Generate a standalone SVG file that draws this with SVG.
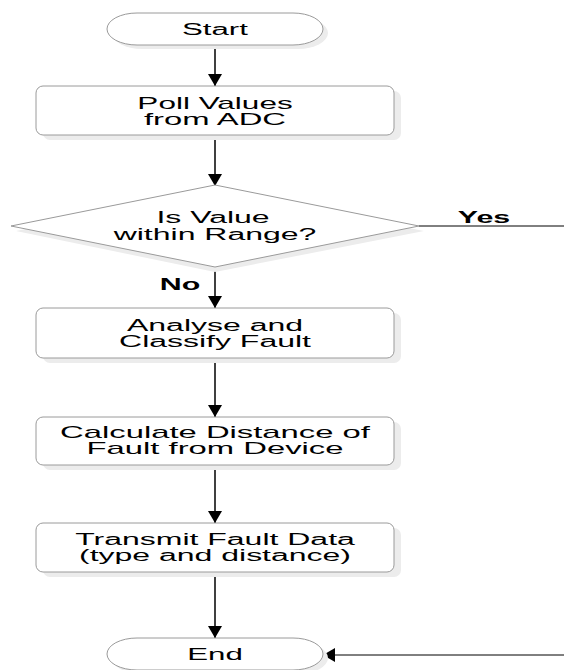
<svg xmlns="http://www.w3.org/2000/svg" width="564" height="670" viewBox="0 0 564 670">
<style>
.t{font-family:"Liberation Sans",Arial,sans-serif;font-size:16px;fill:#000;text-anchor:middle}
.b{font-weight:bold}
.shape{fill:#fff;stroke:#9a9a9a;stroke-width:1}
.shadow{fill:#ececec}
.conn{fill:none;stroke:#000;stroke-width:1.5}
</style>
<defs>
<marker id="ah" viewBox="0 0 12 14" refX="12" refY="7" markerWidth="12" markerHeight="14" markerUnits="userSpaceOnUse" orient="auto">
<path d="M0,0 L12,7 L0,14 Z" fill="#000"/>
</marker>
</defs>
<rect width="564" height="670" fill="#fff"/>

<g id="connectors">
<line class="conn" x1="215" y1="45" x2="215" y2="86" marker-end="url(#ah)"/>
<line class="conn" x1="215" y1="135" x2="215" y2="186" marker-end="url(#ah)"/>
<line class="conn" x1="215" y1="267" x2="215" y2="308" marker-end="url(#ah)"/>
<line class="conn" x1="215" y1="358" x2="215" y2="417" marker-end="url(#ah)"/>
<line class="conn" x1="215" y1="465" x2="215" y2="523" marker-end="url(#ah)"/>
<line class="conn" x1="215" y1="572" x2="215" y2="638" marker-end="url(#ah)"/>
<path class="conn" style="stroke-width:1" d="M419,226 H600 V655 H323" marker-end="url(#ah)"/>
<text class="t b" transform="translate(484,223) scale(1.9,1)">Yes</text>
<text class="t b" transform="translate(180,290) scale(1.9,1)">No</text>
</g>

<g id="start">
<rect class="shadow" x="112" y="17" width="216" height="32" rx="30" ry="16"/>
<rect class="shape" x="107" y="13" width="216" height="32" rx="30" ry="16"/>
<text class="t" transform="translate(215,35) scale(1.95,1)">Start</text>
</g>

<g id="poll">
<rect class="shadow" x="43" y="91" width="358" height="49" rx="7"/>
<rect class="shape" x="36" y="86" width="358" height="49" rx="7"/>
<text class="t" transform="translate(215,109) scale(1.97,1)">Poll Values</text>
<text class="t" transform="translate(215,125) scale(2.05,1)">from ADC</text>
</g>

<g id="decision">
<polygon class="shadow" points="215,190 424,231 215,272 16,231"/>
<polygon class="shape" stroke-linejoin="round" points="215,185 419,226 215,267 11,226"/>
<text class="t" transform="translate(213,223) scale(2,1)">Is Value</text>
<text class="t" transform="translate(215,240) scale(2,1)">within Range?</text>
</g>

<g id="analyse">
<rect class="shadow" x="43" y="313" width="358" height="50" rx="7"/>
<rect class="shape" x="36" y="308" width="358" height="50" rx="7"/>
<text class="t" transform="translate(215,331) scale(2,1)">Analyse and</text>
<text class="t" transform="translate(215,347) scale(2,1)">Classify Fault</text>
</g>

<g id="calculate">
<rect class="shadow" x="43" y="422" width="358" height="48" rx="7"/>
<rect class="shape" x="36" y="417" width="358" height="48" rx="7"/>
<text class="t" transform="translate(215,438) scale(2.05,1)">Calculate Distance of</text>
<text class="t" transform="translate(215,454) scale(2.05,1)">Fault from Device</text>
</g>

<g id="transmit">
<rect class="shadow" x="43" y="528" width="358" height="49" rx="7"/>
<rect class="shape" x="36" y="523" width="358" height="49" rx="7"/>
<text class="t" transform="translate(215,545) scale(2,1)">Transmit Fault Data</text>
<text class="t" transform="translate(215,561) scale(2,1)">(type and distance)</text>
</g>

<g id="end">
<rect class="shadow" x="112" y="642" width="216" height="32" rx="30" ry="16"/>
<rect class="shape" x="107" y="638" width="216" height="32" rx="30" ry="16"/>
<text class="t" transform="translate(215,660) scale(1.95,1)">End</text>
</g>
</svg>
